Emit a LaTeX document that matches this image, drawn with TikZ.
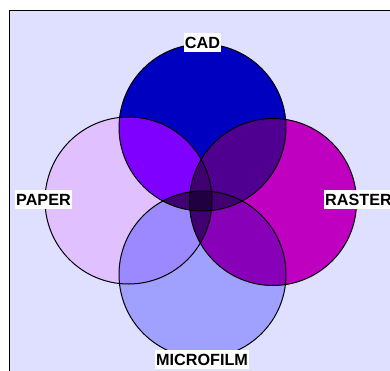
\documentclass[tikz,border=0pt]{standalone}
\usepackage{fontspec}
\setmainfont{Liberation Sans}
\usepackage{xcolor}

\definecolor{bgpurple}{HTML}{DFDFFF}
\definecolor{cadblue}{HTML}{0000C0}
\definecolor{paperpink}{HTML}{E0C0FF}
\definecolor{rastermag}{HTML}{C000C0}
\definecolor{filmblue}{HTML}{A0A0FF}
\definecolor{cadpaper}{HTML}{8000FF}
\definecolor{cadraster}{HTML}{500090}
\definecolor{paperfilm}{HTML}{9C88FF}
\definecolor{rasterfilm}{HTML}{8800B8}
\definecolor{tripledark}{HTML}{400070}
\definecolor{allfour}{HTML}{200040}

\newcommand{\vrad}{83.5pt}

\begin{document}
\begin{tikzpicture}[x=1pt, y=-1pt,
    lbl/.style={fill=white, font=\fontsize{16.2}{18}\selectfont\bfseries,
        inner xsep=1pt, inner ysep=0pt, minimum height=19pt},
    ring/.style={draw=black, line width=1pt}]
    \clip (0, 0) rectangle (390, 371);
    \fill[white] (0, 0) rectangle (390, 371);
    \filldraw[fill=bgpurple, draw=black, line width=1pt] (9.5, 10.5) rectangle (400, 380);

    \coordinate (cad) at (202.5, 127.5);
    \coordinate (paper) at (128.5, 200.5);
    \coordinate (raster) at (273, 202);
    \coordinate (film) at (202.5, 274.5);

    % single sets
    \fill[cadblue] (cad) circle (\vrad);
    \fill[paperpink] (paper) circle (\vrad);
    \fill[rastermag] (raster) circle (\vrad);
    \fill[filmblue] (film) circle (\vrad);

    % pairs
    \begin{scope}
        \clip (cad) circle (\vrad);
        \fill[cadpaper] (paper) circle (\vrad);
        \fill[cadraster] (raster) circle (\vrad);
    \end{scope}
    \begin{scope}
        \clip (film) circle (\vrad);
        \fill[paperfilm] (paper) circle (\vrad);
        \fill[rasterfilm] (raster) circle (\vrad);
    \end{scope}

    % triples
    \begin{scope}
        \clip (paper) circle (\vrad);
        \clip (raster) circle (\vrad);
        \fill[tripledark] (cad) circle (\vrad);
        \fill[tripledark] (film) circle (\vrad);
    \end{scope}
    \begin{scope}
        \clip (cad) circle (\vrad);
        \clip (film) circle (\vrad);
        \fill[tripledark] (paper) circle (\vrad);
        \fill[tripledark] (raster) circle (\vrad);
        \clip (paper) circle (\vrad);
        \fill[allfour] (raster) circle (\vrad);
    \end{scope}

    \draw[ring] (cad) circle (\vrad);
    \draw[ring] (paper) circle (\vrad);
    \draw[ring] (raster) circle (\vrad);
    \draw[ring] (film) circle (\vrad);

    \node[lbl] (cadlbl) at (202.5, 42.5) {CAD};
    \node[lbl] (paperlbl) at (43.5, 199.5) {PAPER};
    \node[lbl, anchor=west] (rasterlbl) at (324, 199.5) {RASTER};
    \node[lbl] (filmlbl) at (202, 359.5) {MICROFILM};

\end{tikzpicture}
\end{document}
